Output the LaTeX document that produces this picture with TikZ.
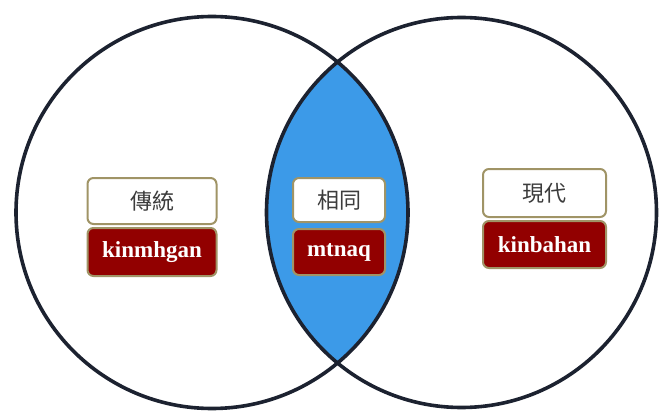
\documentclass[tikz,border=0pt]{standalone}
\usepackage{fontspec}
\newfontfamily\cjkfont{Noto Sans CJK TC}
\newfontfamily\tnrfont{Liberation Serif}
\definecolor{ringcol}{HTML}{1C2230}
\definecolor{lensblue}{HTML}{3C9AE8}
\definecolor{boxedge}{HTML}{A09466}
\definecolor{darkred}{HTML}{920000}
\definecolor{cjkgray}{HTML}{3C3C3C}
\tikzset{
  ring/.style={draw=ringcol, line width=3.6pt},
  whitebox/.style={draw=boxedge, line width=2pt, fill=white, rounded corners=6pt,
    inner sep=0pt, font=\cjkfont\fontsize{22}{24}\selectfont, text=cjkgray},
  redbox/.style={draw=boxedge, line width=2pt, fill=darkred, rounded corners=6pt,
    inner sep=0pt, font=\tnrfont\bfseries\fontsize{23}{25}\selectfont, text=white}
}
\begin{document}
\begin{tikzpicture}[x=1pt,y=-1pt]
\useasboundingbox (0,0) rectangle (659,412);
\fill[white] (0,0) rectangle (659,412);
\coordinate (cl) at (212,212.5);
\coordinate (cr) at (461.5,212.5);
\begin{scope}
  \clip (cl) circle[radius=196pt];
  \fill[lensblue] (cr) circle[radius=195pt];
\end{scope}
\draw[ring] (cl) circle[radius=196pt];
\draw[ring] (cr) circle[radius=195pt];
% left
\node[whitebox, minimum width=129pt, minimum height=46pt] (lw) at (152,201) {傳統};
\node[redbox, minimum width=129pt, minimum height=48pt] (lr) at (152,252) {kinmhgan};
% middle
\node[whitebox, minimum width=92pt, minimum height=44pt] (mw) at (339,200) {相同};
\node[redbox, minimum width=92pt, minimum height=46pt] (mr) at (339,252) {mtnaq};
% right
\node[whitebox, minimum width=123pt, minimum height=48pt] (rw) at (544.5,193) {現代};
\node[redbox, minimum width=123pt, minimum height=47pt] (rr) at (544.5,244.5) {kinbahan};
\end{tikzpicture}
\end{document}
